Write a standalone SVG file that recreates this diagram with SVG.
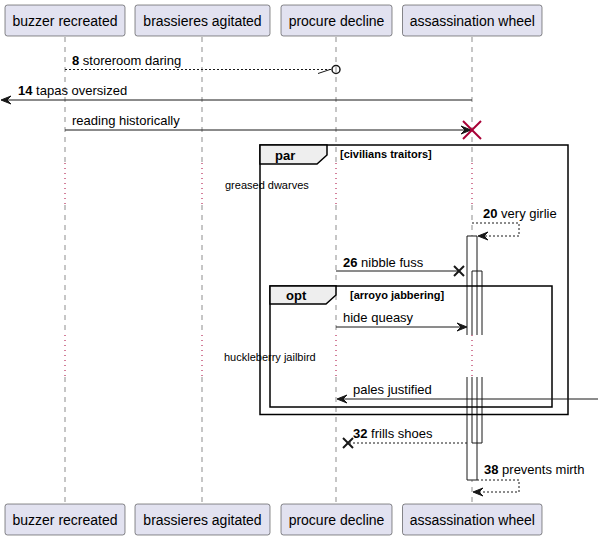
<svg xmlns="http://www.w3.org/2000/svg" width="600" height="540" viewBox="0 0 600 540">
<style>
  text { font-family: "Liberation Sans", Arial, sans-serif; fill: #000; }
  .pbox { fill: #E2E2F0; stroke: #181818; stroke-width: 0.5; }
  .pname { font-size: 14px; text-anchor: middle; }
  .life { stroke: #181818; stroke-width: 0.5; stroke-dasharray: 5,5; fill: none; }
  .delay { stroke: #A80036; stroke-width: 1; stroke-dasharray: 1,4; fill: none; }
  .msg { stroke: #181818; stroke-width: 1; fill: none; }
  .dash { stroke: #181818; stroke-width: 1; stroke-dasharray: 2,2; fill: none; }
  .head { fill: #181818; stroke: #181818; stroke-width: 1; }
  .lbl { font-size: 13px; }
  .num { font-weight: bold; }
  .dtext { font-size: 11px; }
  .frame { fill: none; stroke: #000; stroke-width: 1.5; }
  .tab { fill: #EEEEEE; stroke: #000; stroke-width: 1.5; }
  .ftitle { font-size: 13px; font-weight: bold; }
  .guard { font-size: 11px; font-weight: bold; }
  .act { fill: #FFFFFF; stroke: #181818; stroke-width: 1; }
  .actn { fill: none; stroke: #181818; stroke-width: 1; }
  .xdark { stroke: #181818; stroke-width: 2; }
  .xred { stroke: #A80036; stroke-width: 2; }
</style>

<g id="lifelines">
  <path class="life" d="M65,37 V163 M65,205 V335 M65,377 V504"/>
  <path class="life" d="M202,37 V163 M202,205 V335 M202,377 V504"/>
  <path class="life" d="M336,37 V163 M336,205 V335 M336,377 V504"/>
  <path class="life" d="M472,37 V163 M472,205 V335 M472,377 V504"/>
  <path class="delay" d="M65,163 V205 M202,163 V205 M336,163 V205 M472,163 V205"/>
  <path class="delay" d="M65,335 V377 M202,335 V377 M336,335 V377 M472,335 V377"/>
  <text class="dtext" x="225" y="189">greased dwarves</text>
  <text class="dtext" x="224" y="361">huckleberry jailbird</text>
</g>

<g id="p-buzzer">
  <rect class="pbox" x="5" y="5" width="120" height="31" rx="2.5"/>
  <text class="pname" x="65" y="26">buzzer recreated</text>
  <rect class="pbox" x="5" y="504" width="120" height="31" rx="2.5"/>
  <text class="pname" x="65" y="525">buzzer recreated</text>
</g>
<g id="p-brassieres">
  <rect class="pbox" x="135" y="5" width="135" height="31" rx="2.5"/>
  <text class="pname" x="202.5" y="26">brassieres agitated</text>
  <rect class="pbox" x="135" y="504" width="135" height="31" rx="2.5"/>
  <text class="pname" x="202.5" y="525">brassieres agitated</text>
</g>
<g id="p-procure">
  <rect class="pbox" x="281" y="5" width="111" height="31" rx="2.5"/>
  <text class="pname" x="336.5" y="26">procure decline</text>
  <rect class="pbox" x="281" y="504" width="111" height="31" rx="2.5"/>
  <text class="pname" x="336.5" y="525">procure decline</text>
</g>
<g id="p-assassination">
  <rect class="pbox" x="402.5" y="5" width="139.5" height="31" rx="2.5"/>
  <text class="pname" x="472.3" y="26">assassination wheel</text>
  <rect class="pbox" x="402.5" y="504" width="139.5" height="31" rx="2.5"/>
  <text class="pname" x="472.3" y="525">assassination wheel</text>
</g>

<g id="activations">
  <path class="act" d="M467,335 V236 H477 V335"/>
  <path class="actn" d="M472,335 V271 H482 V335"/>
  <path class="act" d="M467,377 V480 H477 V377"/>
  <path class="actn" d="M472,377 V443 H482 V377"/>
</g>

<g id="frames">
  <rect id="par" class="frame" x="260" y="145" width="308" height="269.5"/>
  <polygon class="tab" points="260,145 327,145 327,155 317,164 260,164"/>
  <text class="ftitle" x="275" y="160">par</text>
  <text class="guard" x="340" y="158">[civilians traitors]</text>
  <rect id="opt" class="frame" x="270" y="286" width="282" height="121"/>
  <polygon class="tab" points="270,286 336,286 336,295 326,304 270,304"/>
  <text class="ftitle" x="286" y="300">opt</text>
  <text class="guard" x="350" y="299">[arroyo jabbering]</text>
</g>

<g id="connectors">
  <!-- 8 storeroom daring -->
  <line class="dash" x1="65" y1="69.5" x2="332" y2="69.5"/>
  <line class="msg" x1="318" y1="73.5" x2="330" y2="69.5"/>
  <circle cx="336" cy="69.5" r="4" fill="none" stroke="#181818" stroke-width="1.5"/>
  <text class="lbl" x="72" y="65"><tspan class="num">8</tspan> storeroom daring</text>

  <!-- 14 tapas oversized -->
  <line class="msg" x1="472" y1="100" x2="3" y2="100"/>
  <polygon class="head" points="1,100 11,96 7,100 11,104"/>
  <text class="lbl" x="18" y="95"><tspan class="num">14</tspan> tapas oversized</text>

  <!-- reading historically -->
  <line class="msg" x1="65" y1="130" x2="470" y2="130"/>
  <polygon class="head" points="471,130 461,126 465,130 461,134"/>
  <line class="xred" x1="463" y1="121" x2="481" y2="139"/>
  <line class="xred" x1="463" y1="139" x2="481" y2="121"/>
  <text class="lbl" x="72" y="125">reading historically</text>

  <!-- 20 very girlie -->
  <polyline class="dash" points="472,223 519,223 519,236 480,236"/>
  <polygon class="head" points="478,236 488,232 484,236 488,240"/>
  <text class="lbl" x="483" y="218"><tspan class="num">20</tspan> very girlie</text>

  <!-- 26 nibble fuss -->
  <line class="msg" x1="336" y1="271" x2="459" y2="271"/>
  <line class="xdark" x1="454" y1="266" x2="464" y2="276"/>
  <line class="xdark" x1="454" y1="276" x2="464" y2="266"/>
  <text class="lbl" x="343" y="267"><tspan class="num">26</tspan> nibble fuss</text>

  <!-- hide queasy -->
  <line class="msg" x1="336" y1="327" x2="465" y2="327"/>
  <polygon class="head" points="467,327 457,323 461,327 457,331"/>
  <text class="lbl" x="343" y="322">hide queasy</text>

  <!-- pales justified -->
  <line class="msg" x1="598" y1="399" x2="339" y2="399"/>
  <polygon class="head" points="337,399 347,395 343,399 347,403"/>
  <text class="lbl" x="353" y="394">pales justified</text>

  <!-- 32 frills shoes -->
  <line class="dash" x1="467" y1="443" x2="350" y2="443"/>
  <line class="xdark" x1="343" y1="438" x2="353" y2="448"/>
  <line class="xdark" x1="343" y1="448" x2="353" y2="438"/>
  <text class="lbl" x="353" y="438"><tspan class="num">32</tspan> frills shoes</text>

  <!-- 38 prevents mirth -->
  <polyline class="dash" points="477,480 519,480 519,492 475,492"/>
  <polygon class="head" points="473,492 483,488 479,492 483,496"/>
  <text class="lbl" x="484" y="474"><tspan class="num">38</tspan> prevents mirth</text>
</g>
</svg>
